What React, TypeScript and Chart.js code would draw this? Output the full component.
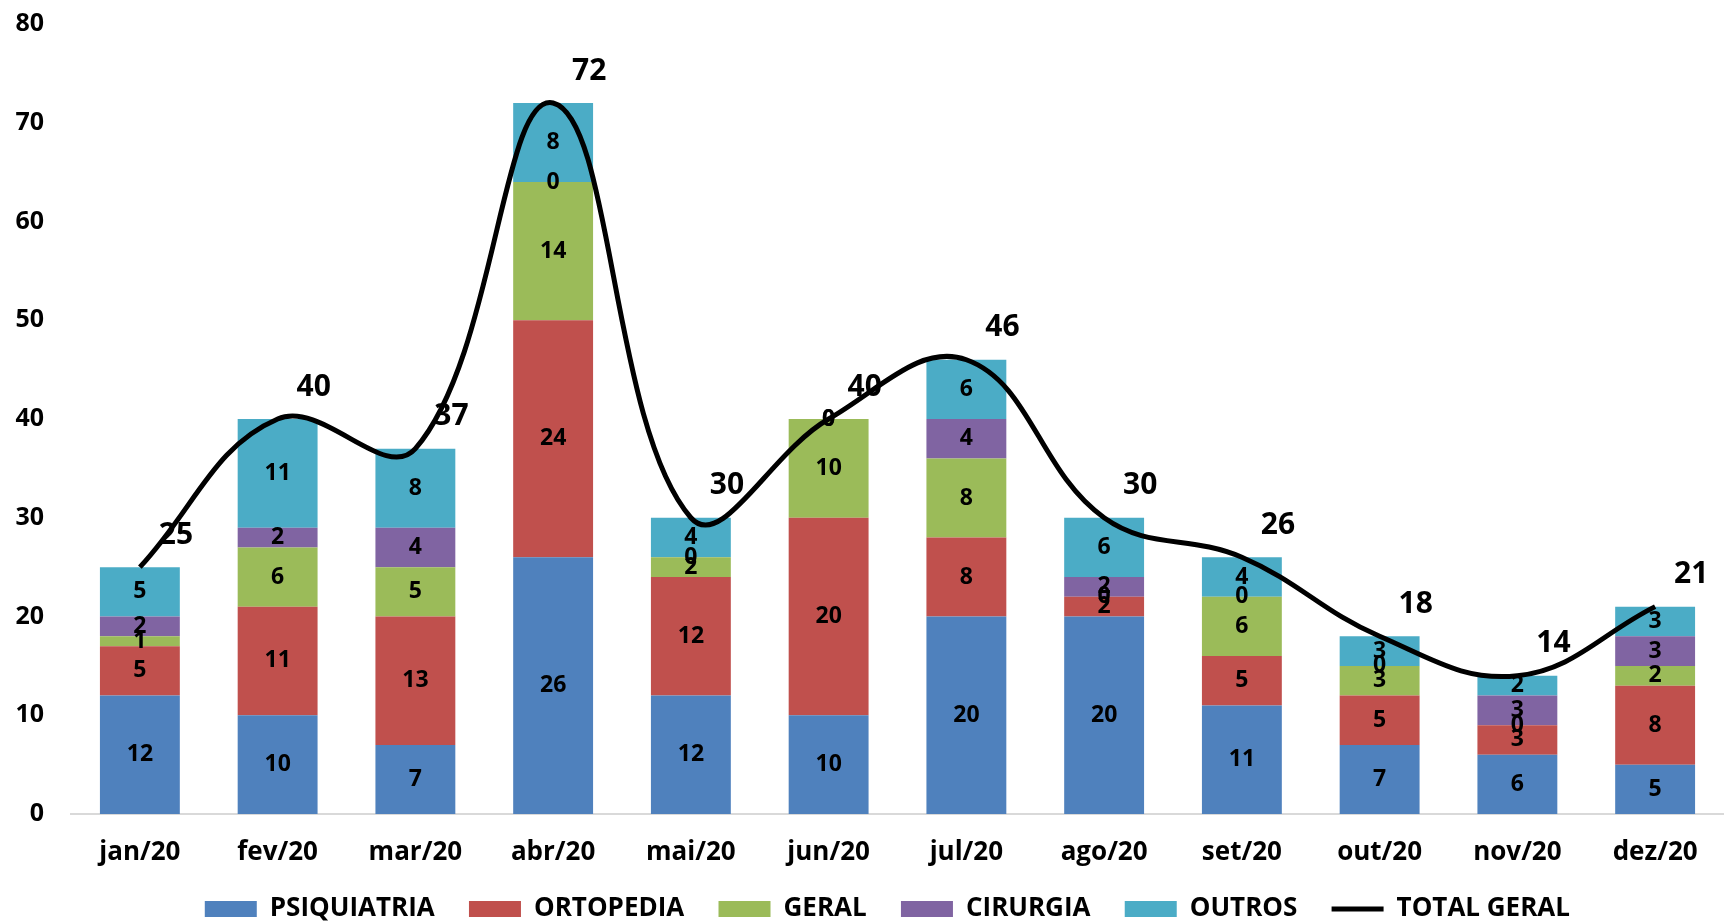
import React, { useEffect, useRef } from "react";
import { Chart, registerables } from "chart.js";

Chart.register(...registerables);

const months = ["jan/20", "fev/20", "mar/20", "abr/20", "mai/20", "jun/20", "jul/20", "ago/20", "set/20", "out/20", "nov/20", "dez/20"];
const psiquiatria = [12, 10, 7, 26, 12, 10, 20, 20, 11, 7, 6, 5];
const ortopedia = [5, 11, 13, 24, 12, 20, 8, 2, 5, 5, 3, 8];
const geral = [1, 6, 5, 14, 2, 10, 8, 0, 6, 3, 0, 2];
const cirurgia = [2, 2, 4, 0, 0, 0, 4, 2, 0, 0, 3, 3];
const outros = [5, 11, 8, 8, 4, 0, 6, 6, 4, 3, 2, 3];
const totalGeral = [25, 40, 37, 72, 30, 40, 46, 30, 26, 18, 14, 21];
const yTicks = [0, 10, 20, 30, 40, 50, 60, 70, 80];

const FONT = "'Open Sans', 'DejaVu Sans', sans-serif";
const LEGEND_GAP = "   ";

const labelPlugin = {
  id: "valueLabels",
  afterDatasetsDraw(chart: any) {
    const ctx = chart.ctx;
    ctx.save();
    ctx.textAlign = "center";
    ctx.textBaseline = "middle";
    ctx.fillStyle = "#000";
    chart.data.datasets.forEach((ds: any, di: number) => {
      const meta = chart.getDatasetMeta(di);
      if (meta.hidden) return;
      if (ds.type === "line") {
        ctx.font = `bold 30px ${FONT}`;
        meta.data.forEach((pt: any, i: number) => {
          ctx.fillText(String(ds.data[i]), pt.x + 36, pt.y - 32);
        });
      } else {
        ctx.font = `bold 23px ${FONT}`;
        meta.data.forEach((el: any, i: number) => {
          const y = (el.y + el.base) / 2;
          ctx.fillText(String(ds.data[i]), el.x, y);
        });
      }
    });
    ctx.restore();
  },
};

export default function App() {
  const canvasRef = useRef<HTMLCanvasElement | null>(null);

  useEffect(() => {
    document.body.style.margin = "0";
    document.body.style.overflow = "hidden";
    const canvas = canvasRef.current;
    if (!canvas) return;
    const barCommon = {
      type: "bar" as const,
      stack: "s",
      barPercentage: 0.58,
      categoryPercentage: 1,
      pointStyle: "rect",
      order: 1,
    };
    const chart = new Chart(canvas, {
      type: "bar",
      data: {
        labels: months,
        datasets: [
          { ...barCommon, label: "PSIQUIATRIA", data: psiquiatria, backgroundColor: "#4F81BD" },
          { ...barCommon, label: "ORTOPEDIA", data: ortopedia, backgroundColor: "#C0504D" },
          { ...barCommon, label: "GERAL", data: geral, backgroundColor: "#9BBB59" },
          { ...barCommon, label: "CIRURGIA", data: cirurgia, backgroundColor: "#8064A2" },
          { ...barCommon, label: "OUTROS", data: outros, backgroundColor: "#4BACC6" },
          {
            type: "line" as const,
            label: "TOTAL GERAL",
            data: totalGeral,
            borderColor: "#000",
            backgroundColor: "#000",
            borderWidth: 5,
            pointRadius: 0,
            pointStyle: "line",
            tension: 0.4,
            order: 0,
          } as any,
        ],
      },
      options: {
        responsive: false,
        animation: false,
        layout: { padding: { top: 24, left: 0, right: 0, bottom: 0 } },
        plugins: {
          tooltip: { enabled: false },
          legend: {
            position: "bottom",
            fullSize: false,
            labels: {
              usePointStyle: true,
              pointStyleWidth: 52,
              boxHeight: 16,
              padding: 14,
              color: "#000",
              font: { family: FONT, size: 26, weight: "bold" },
              sort: (a: any, b: any) => a.datasetIndex - b.datasetIndex,
              generateLabels: (c: any) => {
                const items = Chart.defaults.plugins.legend.labels.generateLabels(c);
                return items.map((it: any) => ({ ...it, text: it.text + LEGEND_GAP }));
              },
            },
          },
        },
        scales: {
          x: {
            stacked: true,
            grid: { display: true, color: "transparent", drawTicks: false },
            border: { display: true, color: "#d9d9d9", width: 2 },
            ticks: {
              color: "#000",
              padding: 23,
              font: { family: FONT, size: 26, weight: "bold" },
            },
            afterFit: (scale: any) => {
              scale.height = 68;
              scale.paddingLeft = 0;
              scale.paddingRight = 0;
            },
          },
          y: {
            stacked: true,
            min: 0,
            max: 80,
            afterBuildTicks: (scale: any) => {
              scale.ticks = yTicks.map((v) => ({ value: v }));
            },
            afterFit: (scale: any) => {
              scale.width = 71;
              scale.paddingTop = 0;
              scale.paddingBottom = 0;
            },
            grid: { display: false, drawTicks: false },
            border: { display: false },
            ticks: {
              color: "#000",
              padding: 27,
              font: { family: FONT, size: 25, weight: "bold" },
            },
          },
        },
      },
      plugins: [labelPlugin],
    } as any);
    return () => chart.destroy();
  }, []);

  return (
    <div style={{ width: 1724, height: 924, overflow: "hidden", position: "relative" }}>
      <canvas ref={canvasRef} width={1724} height={932} style={{ display: "block" }} />
    </div>
  );
}
